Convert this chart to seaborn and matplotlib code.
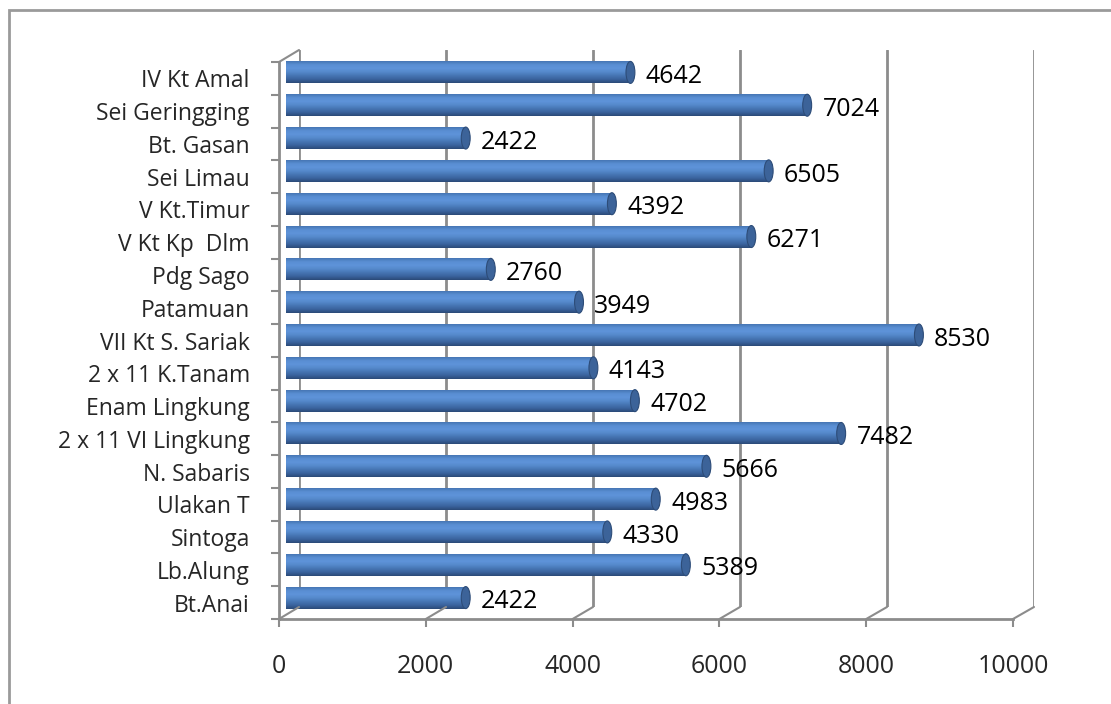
import numpy as np
import pandas as pd
import matplotlib
matplotlib.use("Agg")
import matplotlib.pyplot as plt
import seaborn as sns
from matplotlib.patches import Rectangle, ConnectionPatch, Ellipse
from matplotlib.colors import LinearSegmentedColormap

categories = ["IV Kt Amal", "Sei Geringging", "Bt. Gasan", "Sei Limau", "V Kt.Timur",
              "V Kt Kp  Dlm", "Pdg Sago", "Patamuan", "VII Kt S. Sariak", "2 x 11 K.Tanam",
              "Enam Lingkung", "2 x 11 VI Lingkung", "N. Sabaris", "Ulakan T", "Sintoga",
              "Lb.Alung", "Bt.Anai"]
values = [4642, 7024, 2422, 6505, 4392, 6271, 2760, 3949, 8530, 4143,
          4702, 7482, 5666, 4983, 4330, 5389, 2422]
x_ticks = [0, 2000, 4000, 6000, 8000, 10000]

df = pd.DataFrame({"region": categories, "value": values})

W, H = 1111, 704
def pos(l, t, r, b):
    return [l / W, 1 - b / H, (r - l) / W, (b - t) / H]

sns.set_theme(style="white")
plt.rcParams["font.family"] = ["Open Sans", "DejaVu Sans"]

GRAY = "#8c8c8c"
FS_CAT = 16.5
FS_NUM = 18

fig = plt.figure(figsize=(W / 100, H / 100), dpi=100)
fig.patch.set_facecolor("white")

# back wall (gridlines)
ax_grid = fig.add_axes(pos(299, 50, 1034, 607))
ax_grid.set_xlim(0, 10000)
ax_grid.set_ylim(0, 1)
ax_grid.set_xticks(x_ticks)
ax_grid.set_yticks([])
ax_grid.grid(True, axis="x", color=GRAY, lw=2)
ax_grid.tick_params(axis="x", length=0, labelbottom=False)
for s in ax_grid.spines.values():
    s.set_visible(False)
ax_grid.set_facecolor("none")

# front axes (spines, ticks, labels)
ax_front = fig.add_axes(pos(279, 62, 1013, 619))
ax_front.set_facecolor("none")
ax_front.set_xlim(0, 10000)
ax_front.set_ylim(len(categories) - 0.5, -0.5)
ax_front.set_xticks(x_ticks)
ax_front.set_xticklabels([str(t) for t in x_ticks], fontsize=FS_NUM)
ax_front.set_yticks(range(len(categories)))
ax_front.set_yticklabels(categories, fontsize=FS_CAT)
ax_front.set_yticks(np.arange(-0.5, len(categories)), minor=True)
ax_front.tick_params(axis="y", which="major", length=0, pad=21)
ax_front.tick_params(axis="y", which="minor", length=6, width=1.5, color=GRAY, direction="out", left=True)
ax_front.tick_params(axis="x", which="major", length=6, width=1.5, color=GRAY, direction="out", pad=19, bottom=True)
for k in ["top", "right"]:
    ax_front.spines[k].set_visible(False)
for k in ["left", "bottom"]:
    ax_front.spines[k].set_color(GRAY)
    ax_front.spines[k].set_linewidth(2)

# perspective connectors between front and back planes
for t in x_ticks:
    cp = ConnectionPatch(xyA=(t, len(categories) - 0.5), coordsA=ax_front.transData,
                         xyB=(t, 0), coordsB=ax_grid.transData, color=GRAY, lw=1.5)
    fig.add_artist(cp)
cp = ConnectionPatch(xyA=(0, -0.5), coordsA=ax_front.transData,
                     xyB=(0, 1), coordsB=ax_grid.transData, color=GRAY, lw=1.5)
fig.add_artist(cp)

# bars
ax = fig.add_axes(pos(286, 56, 1028, 614))
ax.set_facecolor("none")
sns.barplot(data=df, x="value", y="region", orient="h", ax=ax, width=0.67,
            color="#4f81bd", edgecolor="none", saturation=1)
ax.set_xlim(0, 10000)
ax.set_ylim(len(categories) - 0.5, -0.5)
ax.axis("off")

cmap = LinearSegmentedColormap.from_list(
    "cyl", ["#4676b4", "#5a8fd4", "#5e93d9", "#5589cb", "#4675b3", "#3a639d", "#2b4a78"])
grad = np.linspace(0, 1, 64).reshape(-1, 1)
bars = list(ax.patches)
for p, v in zip(bars, values):
    x0, y0, w, h = p.get_x(), p.get_y(), p.get_width(), p.get_height()
    im = ax.imshow(grad, extent=[x0, x0 + w, y0 + h, y0], aspect="auto", cmap=cmap,
                   zorder=p.get_zorder() + 0.1, interpolation="bilinear")
    im.set_clip_path(p)
    cap = Ellipse((x0 + w, y0 + h / 2), width=120, height=h, facecolor="#3c6399",
                  edgecolor="#2d4c78", lw=0.8, zorder=p.get_zorder() + 0.2)
    ax.add_patch(cap)
    ax.annotate(f"{v}", xy=(x0 + w, y0 + h / 2), xytext=(11, -3), textcoords="offset points",
                ha="left", va="center", fontsize=FS_NUM, color="black", zorder=5)
ax.set_xlim(0, 10000)
ax.set_ylim(len(categories) - 0.5, -0.5)

# outer border
fig.patches.append(Rectangle((9 / W, -0.1), 1.2, 1 - 10 / H + 0.1, transform=fig.transFigure,
                             fill=False, edgecolor="#9a9a9a", lw=2))

fig.savefig("out.png", dpi=100)
